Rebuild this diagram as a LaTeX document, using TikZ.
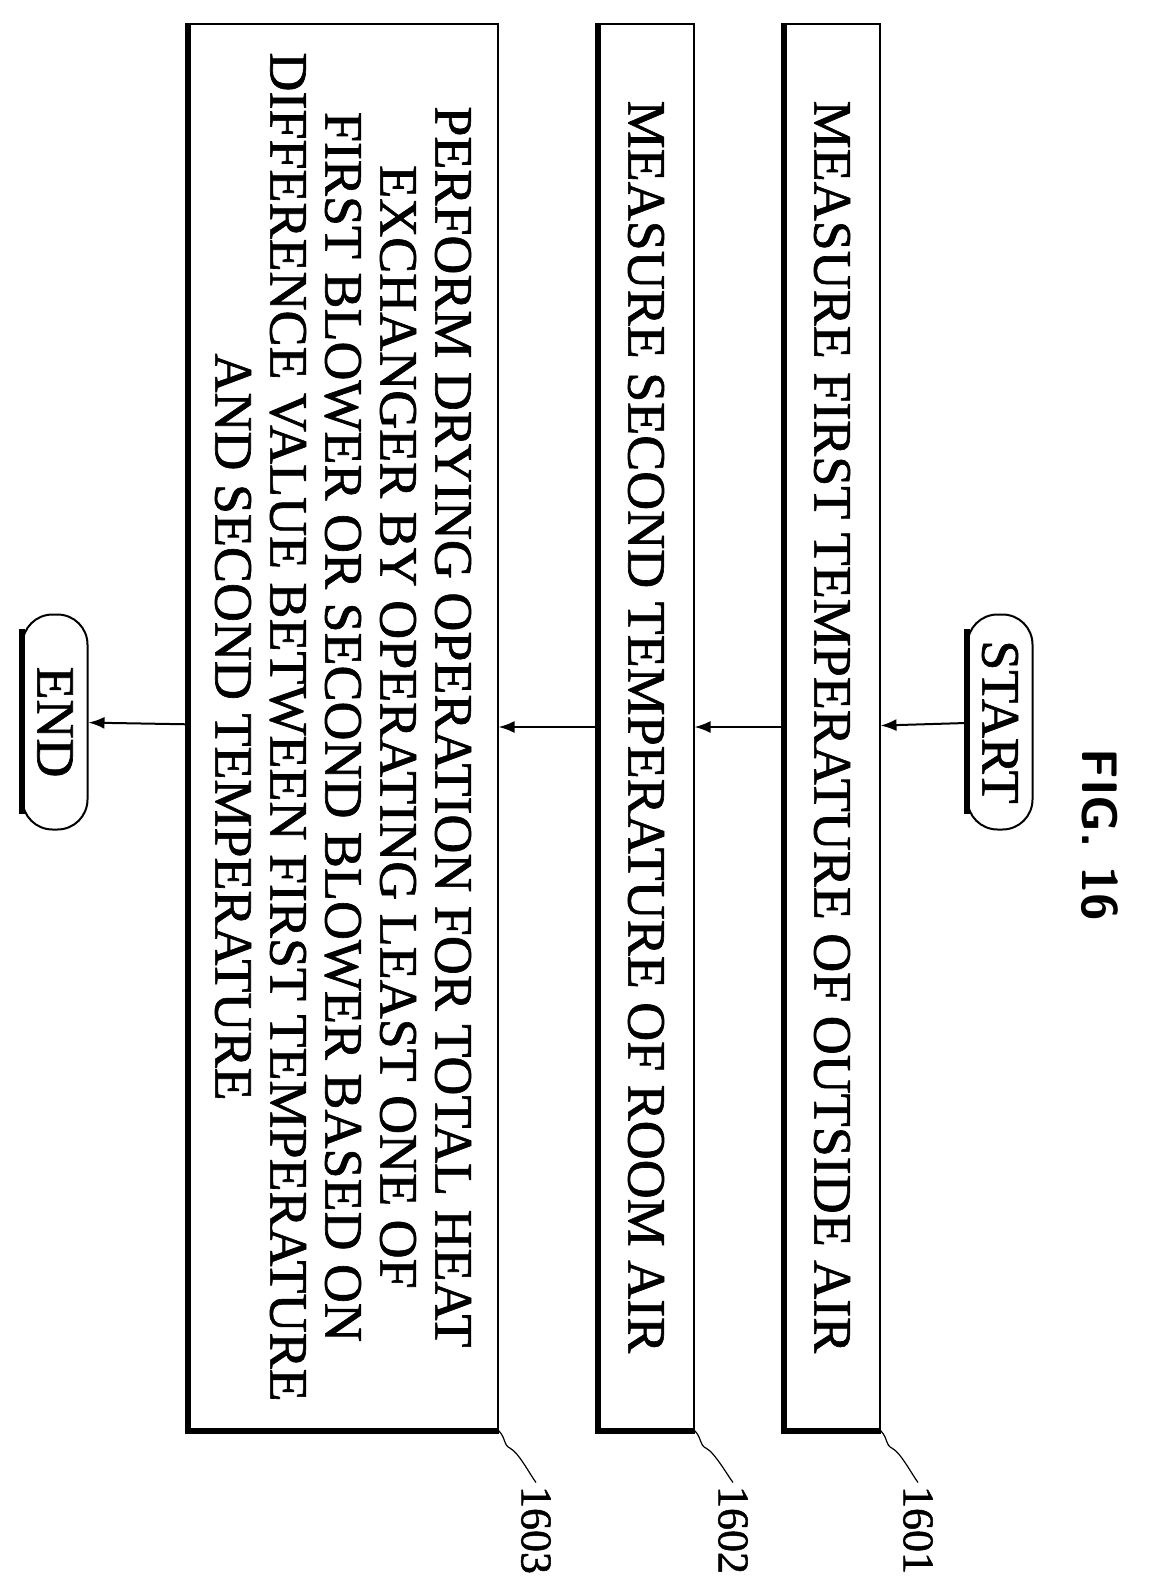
\documentclass[tikz,border=0pt]{standalone}
\usepackage{fontspec}
\setmainfont[FakeBold=1.2]{Liberation Serif}
\usetikzlibrary{arrows.meta}
\begin{document}
\begin{tikzpicture}[x=1pt,y=-1pt,
  box/.style={draw,line width=2pt,minimum width=1405pt,rotate=-90,inner sep=0pt,font=\fontsize{54}{55}\selectfont,align=center},
  term/.style={draw,line width=2pt,rounded corners=30pt,minimum width=215pt,minimum height=65pt,rotate=-90,font=\fontsize{54}{55}\selectfont},
  conn/.style={line width=2pt,-{Latex[length=16pt,width=12pt]}},
  lbl/.style={rotate=-90,font=\fontsize{44}{48}\selectfont}]
\useasboundingbox (0,0) rectangle (1164,1594);
\node[box,minimum height=95pt] (b1) at (832,727) {MEASURE FIRST TEMPERATURE OF OUTSIDE AIR};
\node[box,minimum height=95pt] (b2) at (646,727) {MEASURE SECOND TEMPERATURE OF ROOM AIR};
\node[box,minimum height=309pt] (b3) at (343,727) {PERFORM DRYING OPERATION FOR TOTAL HEAT\\EXCHANGER BY OPERATING LEAST ONE OF\\FIRST BLOWER OR SECOND BLOWER BASED ON\\DIFFERENCE VALUE BETWEEN FIRST TEMPERATURE\\AND SECOND TEMPERATURE};
\foreach \b in {b1,b2,b3}{
  \draw[line width=6pt] (\b.south west) -- (\b.south east) -- (\b.north east);}
\node[term] (st) at (1000,722) {START};
\node[term] (en) at (55,722) {END};
\draw[line width=6pt] (st.south west) ++(0,15) -- ++(0,185);
\draw[line width=6pt] (en.south west) ++(0,15) -- ++(0,185);
\draw[conn] (st) -- (b1);
\draw[conn] (b1) -- (b2);
\draw[conn] (b2) -- (b3);
\draw[conn] (b3) -- (en);
\node[rotate=-90,font=\sffamily\bfseries\fontsize{50}{54}\selectfont] (fig) at (1100,835) {FIG. 16};
\node[lbl] (l1) at (918,1530) {1601};
\node[lbl] (l2) at (733,1530) {1602};
\node[lbl] (l3) at (536,1530) {1603};
\foreach \b/\l in {b1/l1,b2/l2,b3/l3}{
  \draw[line width=1.2pt] (\b.north east) .. controls +(8,8) and +(-8,-4) .. ++(12,18) .. controls +(8,4) and +(-6,-8) .. (\l.west);}
\end{tikzpicture}
\end{document}
